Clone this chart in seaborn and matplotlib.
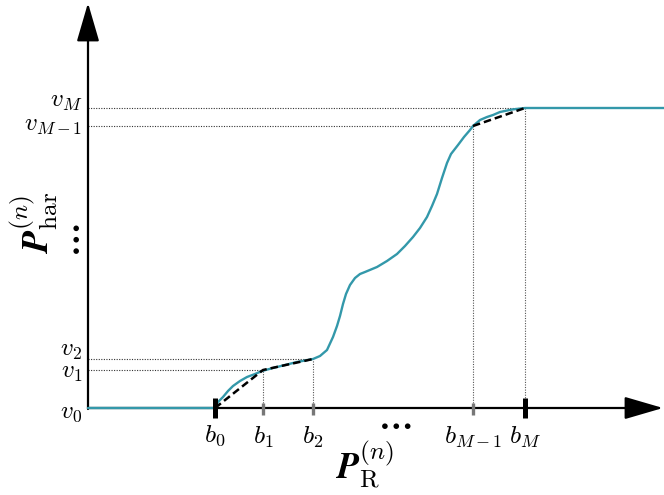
import matplotlib
matplotlib.use("Agg")
import matplotlib.pyplot as plt
import seaborn as sns
import pandas as pd

sns.set_style("white")
plt.rcParams["mathtext.fontset"] = "cm"
plt.rcParams["font.family"] = ["DejaVu Serif"]
plt.rcParams["text.color"] = "black"

# ---------------------------------------------------------------------------
# data (schematic units: x measured from the y-axis, y measured from the x-axis)
# ---------------------------------------------------------------------------
curve_x = [0, 127, 130, 135, 140, 145, 152, 159, 167, 174, 185, 197,
           209, 225, 232, 239, 245, 249, 252, 255, 258, 262, 267, 272,
           277, 289, 299, 309, 317, 325, 332, 339, 344, 349, 354, 359,
           363, 370, 376, 382, 385, 392, 399, 405, 412, 424, 437, 576]
curve_y = [0, 0, 6, 11, 17, 22, 27, 31, 34, 37, 40, 43,
           46, 49, 52, 58, 71, 82, 92, 104, 114, 123, 130, 134,
           136, 141, 147, 154, 162, 171, 180, 191, 202, 214, 230, 245,
           254, 263, 271, 278, 282, 288, 291, 293, 296, 298.5, 300, 300]

bp_x = [127, 175, 225]        # b0, b1, b2
bp_y = [0, 38, 49]            # v0, v1, v2
top_x = [385, 437]            # b_{M-1}, b_M
top_y = [282, 300]            # v_{M-1}, v_M

b_labels = [r"$b_0$", r"$b_1$", r"$b_2$", r"$b_{M-1}$", r"$b_M$"]
v_labels = [r"$v_0$", r"$v_1$", r"$v_2$", r"$v_{M-1}$", r"$v_M$"]

TEAL = "#3398aa"

fig = plt.figure(figsize=(6.64, 4.95), dpi=100)
ax = fig.add_axes([0, 0, 1, 1])

# guide lines
ticks_x = bp_x + top_x
ticks_y = bp_y + top_y
for xv, yv in zip(ticks_x[1:], ticks_y[1:]):
    ax.plot([0, xv], [yv, yv], ls=(0, (1, 1.3)), lw=0.8, color="#333333", zorder=1)
    ax.plot([xv, xv], [0, yv], ls=(0, (1, 1.3)), lw=0.8, color="#555555", zorder=1)

# curve and piecewise-linear approximation
df = pd.DataFrame({"x": curve_x, "y": curve_y})
sns.lineplot(data=df, x="x", y="y", ax=ax, color=TEAL, lw=1.7, sort=False, zorder=3)
seg1 = pd.DataFrame({"x": bp_x, "y": bp_y})
seg2 = pd.DataFrame({"x": top_x, "y": top_y})
for seg in (seg1, seg2):
    sns.lineplot(data=seg, x="x", y="y", ax=ax, color="black", lw=1.8,
                 linestyle=(0, (3, 1.6)), sort=False, zorder=4)
ax.set_xlim(-88, 576)
ax.set_ylim(-87, 408)
ax.axis("off")

# axes with arrows
arrow = dict(arrowstyle="-|>,head_length=2.4,head_width=0.7", color="black",
             lw=1.6, shrinkA=0, shrinkB=0, mutation_scale=10)
ax.annotate("", xy=(575, 0), xytext=(0, 0), arrowprops=arrow, zorder=2)
ax.annotate("", xy=(0, 405), xytext=(0, -1), arrowprops=arrow, zorder=2)

# tick marks
for i, xv in enumerate(ticks_x):
    thick = i in (0, len(ticks_x) - 1)
    ax.plot([xv, xv], [-10, 10] if thick else [-7, 5],
            color="black" if thick else "#777777",
            lw=3.6 if thick else 2.4, solid_capstyle="butt", zorder=5)

# tick labels
b_off = [-27, -29, -29, -29, -29]
for xv, lab, off in zip(ticks_x, b_labels, b_off):
    ax.text(xv, off, lab, ha="center", va="center", fontsize=18.5)
v_pos = [-5, 36, 58, 283, 307]
for yv, lab in zip(v_pos, v_labels):
    ax.text(-6, yv, lab, ha="right", va="center", fontsize=18)

# ellipses
ax.text(307, -16, r"$\mathbf{\cdots}$", ha="center", va="center", fontsize=24)
ax.text(-13, 168, r"$\mathbf{\cdots}$", ha="center", va="center",
        fontsize=24, rotation=90)

# axis labels
ax.text(277, -57, r"$\mathbfit{P}_{\mathrm{R}}^{(n)}$", ha="center",
        va="center", fontsize=26)
ax.text(-54, 185, r"$\mathbfit{P}_{\mathrm{har}}^{(n)}$", ha="center",
        va="center", fontsize=26, rotation=90)

fig.savefig("out.png", dpi=100)
